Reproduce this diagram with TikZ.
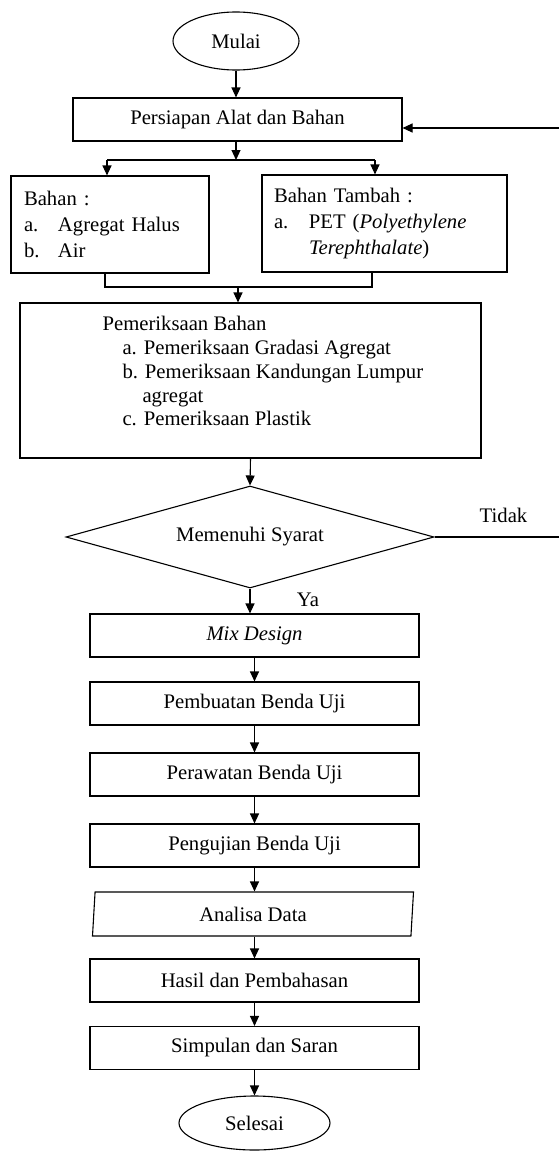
\documentclass[tikz,border=0pt]{standalone}
\usepackage{fontspec}
\setmainfont{Liberation Serif}
\usetikzlibrary{shapes.geometric,arrows.meta,positioning,calc}

\begin{document}
\begin{tikzpicture}[x=1pt, y=-1pt, line width=1.1pt,
    font=\fontsize{20.7}{26}\selectfont,
    terminal/.style={draw, ellipse, inner sep=0pt},
    prosesbox/.style={draw, rectangle, minimum width=329pt, minimum height=43pt, inner sep=0pt},
    keputusan/.style={draw, diamond, aspect=3.6, minimum width=368pt, minimum height=102pt, inner sep=0pt},
    datain/.style={draw, trapezium, trapezium left angle=80, trapezium right angle=100, trapezium stretches body, minimum width=321pt, minimum height=44pt, inner sep=0pt},
    panah/.style={-{Triangle[length=10pt,width=9pt]}}]
\useasboundingbox (0,0) rectangle (558,1151);

\node[terminal, minimum width=126pt, minimum height=58pt] (mulai) at (236,41) {Mulai};
\node[prosesbox] (persiapan) at (237.5,119.5) {Persiapan Alat dan Bahan};

\node[draw, minimum height=97pt, text width=172pt, inner xsep=13pt, align=left] (bahan) at (110,224.5) {Bahan :\\
    \makebox[34pt][l]{a.}Agregat Halus\\
    \makebox[34pt][l]{b.}Air};
\node[draw, minimum height=97pt, text width=221pt, inner xsep=12pt, align=left] (tambah) at (384.5,223.5) {Bahan Tambah :\\
    \makebox[35pt][l]{a.}PET (\textit{Polyethylene}\\
    \hspace*{35pt}\textit{Terephthalate})};

\node[draw, minimum width=461pt, minimum height=155pt] (periksa) at (250.5,380.5) {};
\node[anchor=north west, inner sep=0pt, align=left, font=\fontsize{20.7}{23.7}\selectfont] (periksatxt) at (102,316) {Pemeriksaan Bahan\\
    \hspace*{20pt}a. Pemeriksaan Gradasi Agregat\\
    \hspace*{20pt}b. Pemeriksaan Kandungan Lumpur\\
    \hspace*{40pt}agregat\\
    \hspace*{20pt}c. Pemeriksaan Plastik};

\node[keputusan] (syarat) at (250,537) {Memenuhi Syarat};
\node (tidak) at (503.5,515) {Tidak};
\node (ya) at (308,600) {Ya};

\node[prosesbox] (mix) at (254.5,635.5) {\textit{Mix Design}};
\node[prosesbox] (pembuatan) at (254.5,703.5) {Pembuatan Benda Uji};
\node[prosesbox] (perawatan) at (254.5,774.5) {Perawatan Benda Uji};
\node[prosesbox] (pengujian) at (254.5,845.5) {Pengujian Benda Uji};
\node[datain] (analisa) at (253,914) {Analisa Data};
\node[prosesbox] (hasil) at (254.5,980.5) {Hasil dan Pembahasan};
\node[prosesbox] (simpulan) at (254.5,1048) {Simpulan dan Saran};
\node[terminal, minimum width=151pt, minimum height=54pt] (selesai) at (254.5,1123) {Selesai};

\coordinate (splitl) at (107,160);
\coordinate (splitr) at (375,160);
\coordinate (mergel) at (105,287);
\coordinate (merger) at (372,287);
\coordinate (mergemid) at (238,287);
\coordinate (balik) at (566,537);

\draw[panah] (mulai.south) -- (mulai.south |- persiapan.north);
\draw[panah] (persiapan.south -| mulai.south) -- (mulai.south |- splitl);
\draw (splitl) -- (splitr);
\draw[panah] (splitl) -- (splitl |- bahan.north);
\draw[panah] (splitr) -- (splitr |- tambah.north);
\draw (mergel |- bahan.south) -- (mergel) -- (merger) -- (merger |- tambah.south);
\draw[panah] (mergemid) -- (mergemid |- periksa.north);
\draw[panah] (periksa.south) -- (syarat.north);
\draw[panah] (syarat.east) -- (balik) |- ([yshift=-8.5pt]persiapan.east);
\draw[panah] (syarat.south) -- (syarat.south |- mix.north);
\draw[panah] (mix) -- (pembuatan);
\draw[panah] (pembuatan) -- (perawatan);
\draw[panah] (perawatan) -- (pengujian);
\draw[panah] (pengujian.south) -- (pengujian.south |- analisa.north);
\draw[panah] (analisa.south -| hasil.north) -- (hasil.north);
\draw[panah] (hasil) -- (simpulan);
\draw[panah] (simpulan) -- (selesai);
\end{tikzpicture}
\end{document}
